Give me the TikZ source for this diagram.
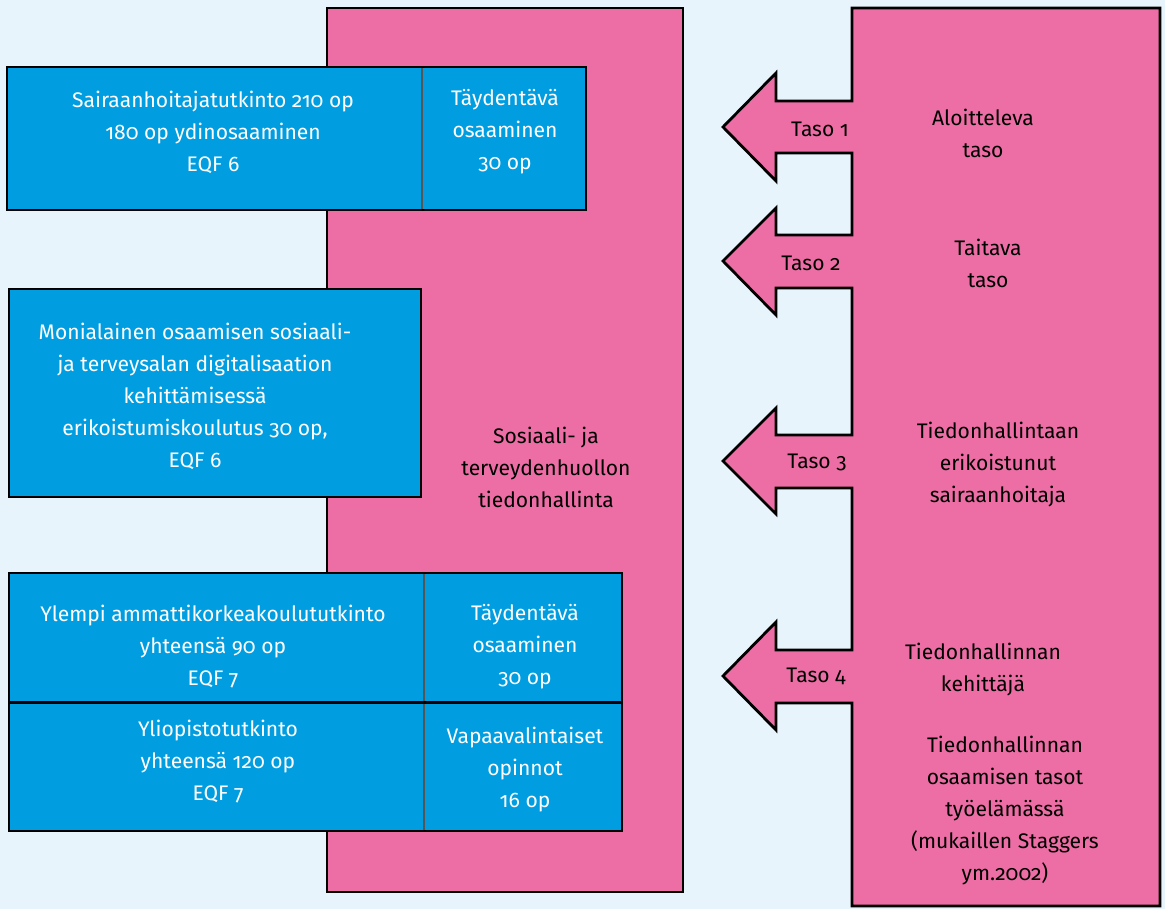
\documentclass[tikz,border=0pt]{standalone}
\usepackage{fontspec}
\setmainfont{Fira Sans}[Numbers=OldStyle]
\usetikzlibrary{positioning}
\definecolor{taustasini}{HTML}{E8F4FC}
\definecolor{roosa}{HTML}{EC6EA5}
\definecolor{sininen}{HTML}{009EE0}
\definecolor{jakoharmaa}{HTML}{555555}

\begin{document}
\begin{tikzpicture}[x=0.75pt,y=-0.75pt,line join=miter,
  reuna/.style={draw=black,line width=2.1pt},
  jako/.style={draw=jakoharmaa,line width=1.7pt},
  valkoinen/.style={align=center,text=white,font=\fontsize{15.8}{24}\selectfont},
  musta/.style={align=center,text=black,font=\fontsize{15.8}{24}\selectfont}]
  % tausta
  \fill[taustasini] (0,0) rectangle (1165,909);
  \useasboundingbox (0,0) rectangle (1165,909);
  % keskimmainen laatikko
  \fill[roosa,reuna] (327,8) rectangle (683,892);
  % oikea laatikko ja nuolet yhtena polkuna
  \filldraw[roosa,reuna] (852,8) -- (1160,8) -- (1160,906) -- (852,906)
    -- (852,703) -- (776,703) -- (776,730) -- (723,676) -- (776,622) -- (776,650) -- (852,650)
    -- (852,488) -- (776,488) -- (776,514) -- (723,461) -- (776,408) -- (776,435) -- (852,435)
    -- (852,288) -- (776,288) -- (776,315) -- (723,261) -- (776,208) -- (776,235) -- (852,235)
    -- (852,153) -- (776,153) -- (776,181) -- (723,127) -- (776,73) -- (776,101) -- (852,101)
    -- cycle;
  % vasemmat laatikot
  \fill[sininen,reuna] (7,67) rectangle (586,210);
  \draw[jako] (422,68) -- (422,209);
  \fill[sininen,reuna] (9,289) rectangle (421,497);
  \fill[sininen,reuna] (9,573) rectangle (622,702);
  \draw[jako] (424,574) -- (424,701);
  \fill[sininen,reuna] (9,703) rectangle (622,831);
  \draw[jako] (424,704) -- (424,830);
  % tekstit
  \node[valkoinen] (sh) at (213,132) {Sairaanhoitajatutkinto 210 op\\180 op ydinosaaminen\\EQF 6};
  \node[valkoinen] (sh-t) at (505,132) {Täydentävä\\osaaminen\\30 op};
  \node[valkoinen] (eko) at (195,396) {Monialainen osaamisen sosiaali-\\ja terveysalan digitalisaation\\kehittämisessä\\erikoistumiskoulutus 30 op,\\EQF 6};
  \node[valkoinen] (yamk) at (213,647) {Ylempi ammattikorkeakoulututkinto\\yhteensä 90 op\\EQF 7};
  \node[valkoinen] (yamk-t) at (525,647) {Täydentävä\\osaaminen\\30 op};
  \node[valkoinen] (yo) at (218,762) {Yliopistotutkinto\\yhteensä 120 op\\EQF 7};
  \node[valkoinen] (yo-v) at (525,770) {Vapaavalintaiset\\opinnot\\16 op};
  \node[musta] (tiedonhallinta) at (546,467) {Sosiaali- ja\\terveydenhuollon\\tiedonhallinta};
  \node[musta] (taso1) at (820,129) {Taso 1};
  \node[musta] (taso2) at (811,263) {Taso 2};
  \node[musta] (taso3) at (817,462) {Taso 3};
  \node[musta] (taso4) at (816,676) {Taso 4};
  \node[musta] (aloitteleva) at (983,133) {Aloitteleva\\taso};
  \node[musta] (taitava) at (988,263) {Taitava\\taso};
  \node[musta] (erikoistunut) at (998,465) {Tiedonhallintaan\\erikoistunut\\sairaanhoitaja};
  \node[musta] (kehittaja) at (983,670) {Tiedonhallinnan\\kehittäjä};
  \node[musta] (lahde) at (1005,811) {Tiedonhallinnan\\osaamisen tasot\\työelämässä\\(mukaillen Staggers\\ym.2002)};
\end{tikzpicture}
\end{document}
